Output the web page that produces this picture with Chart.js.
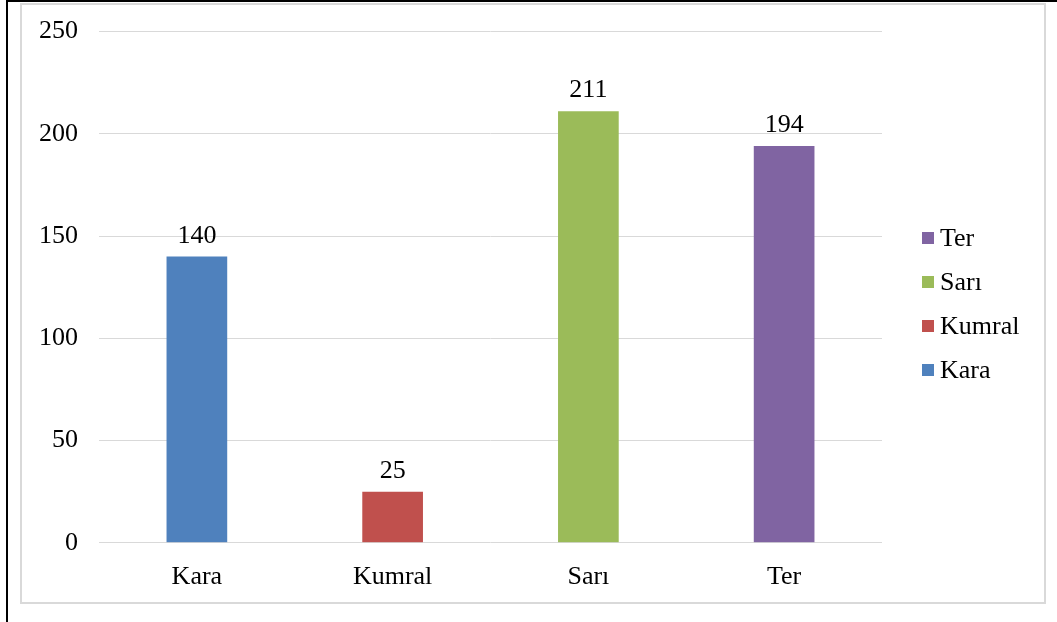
<!DOCTYPE html>
<html>
<head>
<meta charset="utf-8">
<script src="https://cdn.jsdelivr.net/npm/chart.js@4/dist/chart.umd.min.js"></script>
<style>
  html, body { margin: 0; padding: 0; background: #fff; }
  #page { position: relative; width: 1057px; height: 622px; overflow: hidden; }
  #blackLeft { position: absolute; left: 6px; top: 0; width: 2px; height: 622px; background: #000; }
  #blackTop { position: absolute; left: 6px; top: 0; width: 1051px; height: 2px; background: #000; }
  #frame { position: absolute; left: 20px; top: 3px; width: 1022px; height: 597px; border: 2px solid #d9d9d9; }
  #myChart { position: absolute; left: 0; top: -5px; }
</style>
</head>
<body>
<div id="page">
  <div id="blackLeft"></div>
  <div id="blackTop"></div>
  <div id="frame"></div>
  <canvas id="myChart" width="1057" height="627"></canvas>
</div>
<script>
// data
var categories = ['Kara', 'Kumral', 'Sarı', 'Ter'];
var counts = [140, 25, 211, 194];
var barColors = ['#4f81bd', '#c0504d', '#9bbb59', '#8064a2'];
var yTicks = [0, 50, 100, 150, 200, 250];

var fontFamily = '"Liberation Serif", "Times New Roman", serif';
var fontSize = 26;
var canvasShift = 5; // canvas sits 5px above the page top

// value labels above each bar
var valueLabels = {
    id: 'valueLabels',
    afterDatasetsDraw: function(chart){
        var ctx = chart.ctx;
        var meta = chart.getDatasetMeta(0);
        ctx.save();
        ctx.font = fontSize + 'px ' + fontFamily;
        ctx.fillStyle = '#000';
        ctx.textAlign = 'center';
        ctx.textBaseline = 'alphabetic';
        meta.data.forEach(function(bar, i){
            ctx.fillText(String(chart.data.datasets[0].data[i]), bar.x, bar.y - 14);
        });
        ctx.restore();
    }
};

// legend on the right, in reverse order like Excel
var sideLegend = {
    id: 'sideLegend',
    afterDraw: function(chart){
        var ctx = chart.ctx;
        var labels = chart.data.labels;
        var colors = chart.data.datasets[0].backgroundColor;
        var x = 922, y0 = 238 + canvasShift, step = 44;
        ctx.save();
        ctx.font = fontSize + 'px ' + fontFamily;
        ctx.textBaseline = 'middle';
        ctx.textAlign = 'left';
        for (var k = 0; k < labels.length; k++){
            var i = labels.length - 1 - k;
            var y = y0 + k * step;
            ctx.fillStyle = colors[i];
            ctx.fillRect(x, y - 6, 12, 12);
            ctx.fillStyle = '#000';
            ctx.fillText(labels[i], x + 18, y + 1);
        }
        ctx.restore();
    }
};

function Drawgraphonfront(){
    var ctx = document.getElementById('myChart').getContext('2d');
    new Chart(ctx, {
        type: 'bar',
        data: {
            labels: categories,
            datasets: [{
                label: 'Sayı',
                data: counts,
                backgroundColor: barColors,
                borderWidth: 0,
                barPercentage: 0.62,
                categoryPercentage: 0.5
            }]
        },
        options: {
            responsive: false,
            animation: false,
            layout: {
                padding: { left: 18, right: 175, top: 26, bottom: 10 }
            },
            scales: {
                x: {
                    grid: { display: false, drawTicks: false },
                    border: { display: false },
                    ticks: {
                        color: '#000',
                        padding: 19,
                        font: { family: fontFamily, size: fontSize }
                    }
                },
                y: {
                    min: 0,
                    max: 250,
                    afterBuildTicks: function(scale){
                        scale.ticks = yTicks.map(function(v){ return { value: v }; });
                    },
                    grid: { color: '#d9d9d9', lineWidth: 1, drawTicks: false },
                    border: { display: false },
                    ticks: {
                        color: '#000',
                        padding: 21,
                        font: { family: fontFamily, size: fontSize }
                    }
                }
            },
            plugins: {
                legend: { display: false },
                tooltip: { enabled: false }
            }
        },
        plugins: [valueLabels, sideLegend]
    });
}

Drawgraphonfront();
</script>
</body>
</html>
